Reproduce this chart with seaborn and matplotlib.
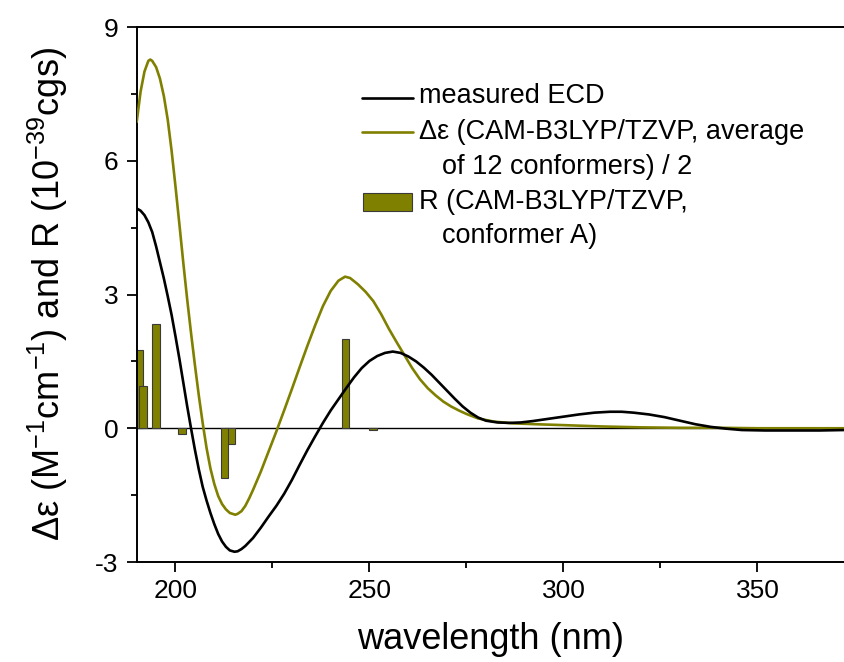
import numpy as np
import pandas as pd
import matplotlib
matplotlib.use("Agg")
import matplotlib.pyplot as plt
from matplotlib.lines import Line2D
from matplotlib.patches import Rectangle
import seaborn as sns

# Measured ECD spectrum (nm, delta epsilon)
measured_nm = [190, 191, 192, 193, 194, 195, 196, 197, 198, 199, 200, 201, 202, 203, 204,
               205, 206, 207, 208, 209, 210, 211, 212, 213, 214, 215.2, 216, 217, 218, 219,
               220, 222, 224, 226, 228, 230, 232, 234, 236, 238, 240, 242, 244, 246, 248,
               250, 252, 254, 256, 258, 260, 262, 264, 266, 268, 270, 272, 274, 276, 278,
               280, 283, 286, 289, 292, 296, 300, 304, 308, 312, 315, 318, 322, 326, 330,
               334, 338, 342, 346, 352, 360, 366, 372.3]
measured_de = [4.93, 4.88, 4.78, 4.62, 4.40, 4.08, 3.72, 3.36, 2.96, 2.54, 2.06, 1.56, 1.03, 0.50, 0.00,
               -0.48, -0.92, -1.31, -1.62, -1.90, -2.15, -2.37, -2.54, -2.66, -2.74, -2.77, -2.76, -2.71, -2.64, -2.55,
               -2.46, -2.23, -1.98, -1.74, -1.47, -1.16, -0.82, -0.49, -0.18, 0.12, 0.40, 0.65, 0.90, 1.14, 1.35,
               1.51, 1.62, 1.69, 1.72, 1.69, 1.61, 1.50, 1.36, 1.20, 1.02, 0.84, 0.66, 0.49, 0.35, 0.24,
               0.17, 0.13, 0.12, 0.13, 0.16, 0.21, 0.26, 0.31, 0.35, 0.37, 0.37, 0.35, 0.31, 0.25, 0.17,
               0.09, 0.03, -0.01, -0.04, -0.05, -0.05, -0.05, -0.04]

# Calculated Boltzmann-averaged spectrum, scaled by 1/2
calc_nm = [190, 191, 192, 193, 193.5, 194, 195, 196, 197, 198, 199, 200, 201, 202, 203,
           204, 205, 206, 207, 208, 209, 210, 211, 212, 213, 214, 215.4, 216, 217, 218,
           219, 220, 222, 224, 226, 228, 230, 232, 234, 236, 238, 240, 242, 243.7, 245,
           247, 249, 251, 253, 255, 257, 259, 261, 263, 265, 267, 269, 271, 273, 275,
           278, 282, 287, 293, 300, 310, 320, 330, 340, 350, 360, 372.3]
calc_de = [6.87, 7.55, 8.00, 8.24, 8.27, 8.24, 8.10, 7.84, 7.45, 6.92, 6.22, 5.42, 4.58, 3.72, 2.90,
           2.14, 1.42, 0.74, 0.12, -0.44, -0.90, -1.25, -1.52, -1.70, -1.82, -1.90, -1.94, -1.92, -1.86, -1.74,
           -1.57, -1.38, -0.97, -0.52, -0.07, 0.40, 0.88, 1.37, 1.85, 2.31, 2.74, 3.08, 3.31, 3.40, 3.37,
           3.23, 3.06, 2.85, 2.56, 2.23, 1.93, 1.64, 1.35, 1.10, 0.90, 0.74, 0.60, 0.49, 0.40, 0.32,
           0.22, 0.15, 0.11, 0.09, 0.07, 0.04, 0.02, 0.01, 0.01, 0.00, 0.00, 0.00]

# Rotatory strengths of conformer A (nm, R in 1e-39 cgs)
rot_nm = [190.5, 191.7, 194.9, 201.6, 214.4, 212.6, 243.8, 250.9]
rot_r = [1.76, 0.94, 2.33, -0.13, -0.35, -1.12, 2.00, -0.05]

OLIVE = "#808000"

sns.set_theme(style="ticks")
plt.rcParams["font.family"] = ["Liberation Sans", "DejaVu Sans"]
plt.rcParams["mathtext.fontset"] = "custom"
plt.rcParams["mathtext.rm"] = "Liberation Sans"
plt.rcParams["mathtext.it"] = "Liberation Sans:italic"
plt.rcParams["axes.unicode_minus"] = False

fig = plt.figure(figsize=(8.44, 6.62), dpi=100)
ax = fig.add_axes([136.7 / 844, 1 - 562 / 662, 1 - 136.7 / 844, (562 - 27) / 662])

ax.axhline(0, color="black", lw=1.0, zorder=1)

ax.bar(rot_nm, rot_r, width=2.0, color=OLIVE, edgecolor="#3a3a3a", linewidth=0.8, zorder=2)

df_meas = pd.DataFrame({"nm": measured_nm, "de": measured_de})
df_calc = pd.DataFrame({"nm": calc_nm, "de": calc_de})
sns.lineplot(data=df_calc, x="nm", y="de", sort=False, color=OLIVE, lw=1.9, ax=ax, zorder=3)
sns.lineplot(data=df_meas, x="nm", y="de", sort=False, color="black", lw=1.9, ax=ax, zorder=4)

ax.set_xlim(190, 372.3)
ax.set_ylim(-3, 9)
ax.set_xticks([200, 250, 300, 350])
ax.set_xticks([225, 275, 325], minor=True)
ax.set_yticks([-3, 0, 3, 6, 9])
ax.set_yticks([-1.5, 1.5, 4.5, 7.5], minor=True)

for side in ["left", "bottom", "top"]:
    ax.spines[side].set_linewidth(1.4)
    ax.spines[side].set_color("black")
ax.spines["right"].set_visible(False)

ax.tick_params(axis="both", which="major", direction="out", length=7, width=1.3,
               labelsize=19, color="black", labelcolor="black")
ax.tick_params(axis="both", which="minor", direction="out", length=4, width=1.3, color="black")
ax.tick_params(axis="x", which="major", pad=5)
ax.tick_params(axis="y", which="major", pad=6)
ax.tick_params(top=False, right=False, which="both")

ax.set_xlabel("wavelength (nm)", fontsize=26, labelpad=14, color="black")
ax.set_ylabel("Δε (M$^{-1}$cm$^{-1}$) and R (10$^{-39}$cgs)", fontsize=26,
              labelpad=18, color="black")

# Legend block
def fx(px):
    return px / 844

def fy(py):
    return 1 - py / 662

fig.add_artist(Line2D([fx(362), fx(413)], [fy(98), fy(98)], color="black", lw=1.9))
fig.add_artist(Line2D([fx(362), fx(413)], [fy(132), fy(132)], color=OLIVE, lw=1.9))
fig.add_artist(Rectangle((fx(362.7), fy(211)), fx(411.7) - fx(362.7), fy(193.3) - fy(211),
                         facecolor=OLIVE, edgecolor="#3a3a3a", lw=0.8))

leg_kw = dict(fontsize=19.5, color="black", va="center", ha="left")
fig.text(fx(419), fy(96), "measured ECD", **leg_kw)
fig.text(fx(419), fy(132), "Δε (CAM-B3LYP/TZVP, average", **leg_kw)
fig.text(fx(442), fy(167), "of 12 conformers) / 2", **leg_kw)
fig.text(fx(419), fy(202), "R (CAM-B3LYP/TZVP,", **leg_kw)
fig.text(fx(442), fy(236), "conformer A)", **leg_kw)

fig.savefig("out.png", dpi=100)
